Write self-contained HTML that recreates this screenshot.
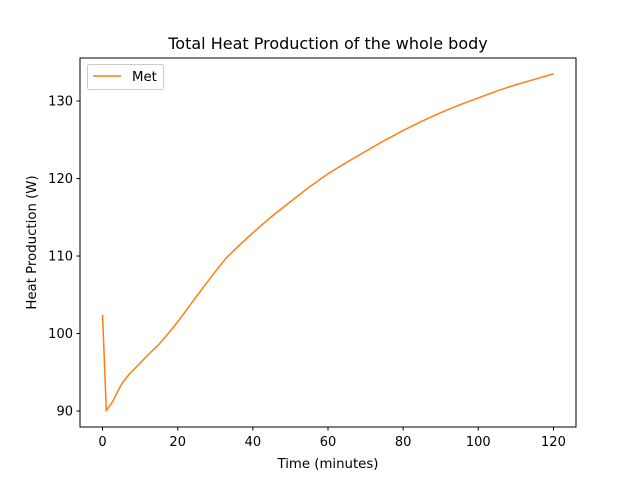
<!DOCTYPE html>
<html><head><meta charset="utf-8"><style>
body{margin:0;background:#fff}
svg text{font-family:"DejaVu Sans","Liberation Sans",sans-serif;fill:#000}
</style></head><body>
<svg id="chart" width="640" height="480" xmlns="http://www.w3.org/2000/svg">
<rect width="640" height="480" fill="#fff"/>
<text x="328" y="49" font-size="16" text-anchor="middle">Total Heat Production of the whole body</text>
<g id="plot"></g>
<rect x="80" y="58" width="496" height="369" fill="none" stroke="#000" stroke-width="1"/>
<text x="328" y="468" font-size="13.3" text-anchor="middle">Time (minutes)</text>
<text transform="translate(36,242.5) rotate(-90)" font-size="13.3" text-anchor="middle">Heat Production (W)</text>
<g>
<rect x="87.5" y="64.5" width="76" height="25" rx="2" fill="#fff" stroke="#ccc"/>
<line x1="93" y1="76" x2="121" y2="76" stroke="#ff7f0e" stroke-width="1.5"/>
<text x="132" y="81" font-size="13.3">Met</text>
</g>
</svg>
<script>
const times=[0,1,2,3,4,5,6,7,8,10,12,15,18,20,25,30,33,36,40,45,50,55,60,65,70,75,80,85,90,95,100,105,110,115,120];
const met=[102.4,90.1,90.7,91.5,92.5,93.4,94.1,94.7,95.2,96.2,97.2,98.6,100.3,101.5,104.8,108,109.8,111.2,113,115.1,117,118.9,120.6,122.1,123.5,124.9,126.2,127.4,128.5,129.5,130.4,131.3,132.1,132.8,133.5];
const xTicks=[0,20,40,60,80,100,120];
const yTicks=[90,100,110,120,130];
const L=80,R=576,T=58,B=427,xMin=-6,xMax=126,yMin=87.94,yMax=135.55;
const sx=v=>L+(v-xMin)/(xMax-xMin)*(R-L);
const sy=v=>B-(v-yMin)/(yMax-yMin)*(B-T);
const ns="http://www.w3.org/2000/svg",g=document.getElementById('plot');
function mk(t,a){const e=document.createElementNS(ns,t);for(const k in a)e.setAttribute(k,a[k]);g.appendChild(e);return e;}
xTicks.forEach(v=>{const x=sx(v);
const l=mk('line',{x1:x,y1:B,x2:x,y2:B+3.5,stroke:'#000'});


const t=mk('text',{x:x,y:B+19,'font-size':13,'text-anchor':'middle'});t.textContent=v;

});
yTicks.forEach(v=>{const y=sy(v);
const l=mk('line',{x1:L-3.5,y1:y,x2:L,y2:y,stroke:'#000'});


const t=mk('text',{x:L-7,y:y+4.5,'font-size':13,'text-anchor':'end'});t.textContent=v;

});
const p=mk('polyline',{points:times.map((t,i)=>sx(t)+','+sy(met[i])).join(' '),fill:'none',stroke:'#ff7f0e','stroke-width':1.5});


</script>
</body></html>
